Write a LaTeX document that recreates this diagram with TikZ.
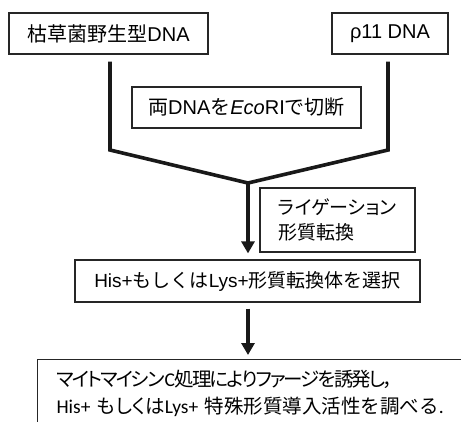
\documentclass[tikz,border=0pt]{standalone}
\usepackage{fontspec}
\setmainfont{Liberation Sans}
\newfontfamily\jp{Noto Sans CJK JP}
\newfontfamily\jpp[RawFeature=+palt]{Noto Sans CJK JP}
\newfontfamily\jpq[RawFeature=+palt, LetterSpace=-10]{Noto Sans CJK JP}
\newfontfamily\calfont{Carlito}
\usetikzlibrary{arrows.meta}
\begin{document}
\begin{tikzpicture}[x=1pt,y=-1pt,
  box/.style={draw=black!85, line width=1.2pt, inner sep=0pt, font=\fontsize{20}{24}\selectfont},
  conn/.style={line width=3.6pt, black!90, line join=miter},
  arr/.style={line width=3.4pt, black!90, -{Triangle[length=12pt,width=13pt]}}]
\clip (0,0) rectangle (461,421);
\fill[white] (0,0) rectangle (461,421);
\node[box, minimum width=199pt, minimum height=41pt] (b1) at (108.5,33.5) {{\jp 枯草菌野生型}DNA};
\node[box, minimum width=116pt, minimum height=41pt] (b2) at (390,33.5) {ρ11 DNA};
\node[box, minimum width=229pt, minimum height=41pt] (b3) at (246.5,107.5) {{\jp 両}DNA{\jp を}{\itshape Eco}RI{\jp で切断}};
\coordinate (cl) at (110,150);
\coordinate (cr) at (388,150);
\coordinate (J) at (248,183);
\draw[conn, shorten <=7pt, shorten >=7pt] (b1.south -| cl) -- (cl) -- (J) -- (cr) -- (b2.south -| cr);
\node[box, minimum width=155pt, minimum height=64pt, align=left, font=\fontsize{19}{25}\selectfont] (lig) at (337.5,220) {{\jpp ライゲーション}\\{\jp 形質転換}};
\node[box, minimum width=345pt, minimum height=42pt, font=\fontsize{19}{24}\selectfont] (b4) at (247.5,281) {His+{\jp もしくは}Lys+{\jp 形質転換体を選択}};
\draw[arr, shorten >=6pt] (J) -- (b4.north -| J);
\node[box, anchor=north west, inner xsep=19pt, text width=430pt, minimum height=68pt, align=left, font=\fontsize{19.5}{27}\selectfont] (b5) at (37,359) {{\jpq マイトマイシン}{\calfont C}{\jpq 処理によりファージを誘発し，}\\{\calfont His+ }{\jpp もしくは}{\calfont Lys+ }{\jp 特殊形質導入活性を調べる}{\calfont .}};
\draw[arr, shorten <=6pt, shorten >=4pt] (b4.south -| J) -- (b5.north -| J);
\end{tikzpicture}
\end{document}
